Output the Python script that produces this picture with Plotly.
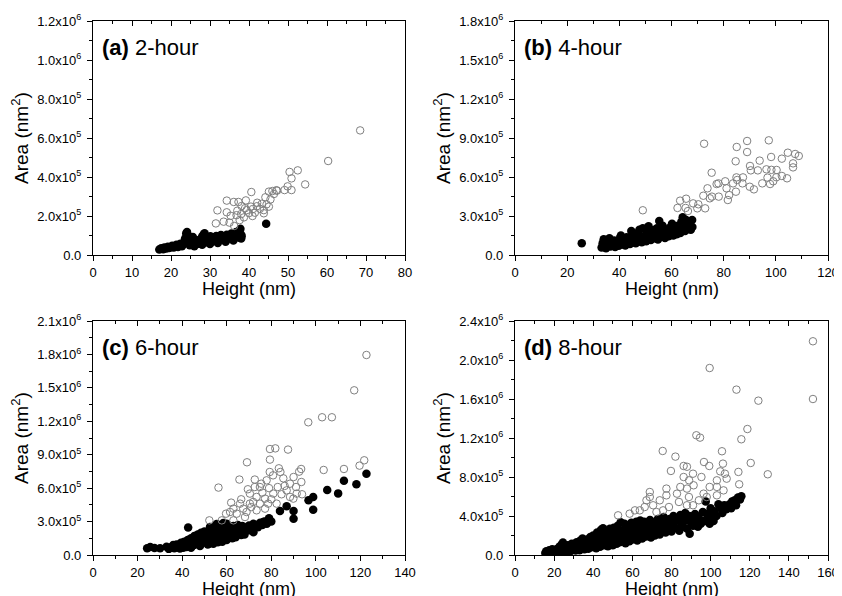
import numpy as np
import plotly.graph_objects as go

# area values are in units of 1e3 nm^2, heights in nm

# (a) 2-hour
closed_2h = [(17.0, 28), (17.5, 35), (18.0, 30), (18.3, 38), (18.8, 33), (19.2, 42), (19.5, 36), (20.0, 40),
             (20.3, 47), (20.7, 38), (21.0, 44), (21.4, 52), (21.8, 41), (22.0, 49), (22.4, 58), (22.8, 45),
             (23.0, 53), (23.3, 64), (23.6, 85), (23.9, 110), (24.1, 118), (24.4, 100), (24.6, 78), (24.8, 50),
             (25.0, 58), (25.3, 70), (25.6, 92), (25.9, 62), (26.2, 55), (26.5, 74), (26.8, 66), (27.1, 58),
             (27.4, 80), (27.7, 68), (28.0, 95), (28.3, 104), (28.6, 112), (28.9, 90), (29.2, 72), (29.5, 64),
             (29.8, 84), (30.1, 96), (30.4, 70), (30.7, 78), (31.0, 88), (31.3, 72), (31.6, 98), (31.9, 80),
             (32.2, 76), (32.5, 92), (32.8, 102), (33.1, 82), (33.4, 88), (33.7, 96), (34.0, 78), (34.3, 104),
             (34.6, 90), (34.9, 84), (35.2, 100), (35.5, 110), (35.8, 92), (36.1, 86), (36.4, 108), (36.7, 118),
             (37.0, 98), (37.3, 90), (37.6, 125), (37.8, 135), (38.0, 104), (38.1, 96), (44.4, 160),
             (26.0, 45), (28.0, 52), (30.0, 56), (32.0, 62), (34.0, 68), (36.0, 75), (38.0, 85)]
open_2h = [(68.5, 639), (60.3, 482), (50.4, 426), (52.5, 434), (50.9, 393), (54.4, 362), (49.9, 352), (50.9, 333),
           (49.1, 333), (47.0, 332), (45.1, 325), (40.6, 323), (46.4, 313), (44.2, 296), (45.5, 285), (34.3, 279),
           (36.1, 272), (37.3, 272), (39.2, 280), (42.1, 268), (43.3, 263), (44.5, 260), (40.5, 248), (45.1, 248),
           (38.1, 251), (31.9, 229), (34.3, 219), (37.0, 227), (36.8, 204), (35.3, 201), (38.7, 193), (41.5, 217),
           (42.8, 237), (43.8, 230), (39.4, 230), (31.5, 162), (33.5, 171), (35.0, 166), (36.2, 149), (37.6, 179),
           (40.9, 200), (43.8, 214), (46.0, 328), (47.2, 330), (39.0, 240), (41.0, 236), (42.0, 250), (38.0, 210),
           (40.0, 215)]

# (b) 4-hour
closed_4h = [(25.6, 90), (33.2, 58), (33.6, 90), (34.0, 121), (34.4, 70), (34.9, 52), (35.3, 80), (35.8, 105),
             (36.2, 128), (36.6, 66), (37.0, 92), (37.5, 74), (38.0, 112), (38.4, 62), (38.9, 84), (39.3, 100),
             (39.8, 72), (40.2, 128), (40.6, 150), (41.0, 96), (41.4, 80), (41.9, 112), (42.3, 74), (42.8, 136),
             (43.2, 92), (43.7, 118), (44.1, 84), (44.6, 184), (45.0, 150), (45.4, 102), (45.9, 128), (46.3, 90),
             (46.8, 165), (47.2, 112), (47.7, 195), (48.1, 140), (48.6, 98), (49.0, 205), (49.4, 124), (49.9, 150),
             (50.3, 106), (50.8, 172), (51.2, 222), (51.7, 138), (52.1, 115), (52.6, 160), (53.0, 190), (53.5, 128),
             (53.9, 148), (54.4, 205), (54.8, 120), (55.3, 262), (55.7, 172), (56.2, 140), (56.6, 225), (57.1, 155),
             (57.5, 130), (58.0, 190), (58.4, 165), (58.9, 145), (59.3, 210), (59.8, 175), (60.2, 240), (60.7, 150),
             (61.1, 200), (61.6, 180), (62.0, 160), (62.5, 225), (62.9, 195), (63.4, 170), (63.8, 255), (64.3, 290),
             (64.7, 210), (65.2, 185), (65.6, 270), (66.1, 230), (66.5, 200), (67.0, 250), (67.4, 195), (67.9, 270),
             (68.0, 215)]
open_4h = [(72.5, 856), (85.0, 831), (89.0, 877), (89.0, 792), (97.3, 882), (84.6, 721), (98.2, 754), (93.8, 726),
           (104.6, 787), (107.4, 777), (108.8, 762), (102.3, 741), (106.6, 705), (106.6, 674), (90.1, 685),
           (90.4, 651), (93.1, 651), (96.4, 659), (98.3, 655), (100.3, 654), (96.8, 595), (100.2, 598), (102.3, 608),
           (104.3, 590), (97.8, 546), (99.0, 567), (94.8, 551), (91.6, 505), (90.0, 525), (87.2, 551), (84.7, 487),
           (81.6, 423), (82.1, 461), (81.1, 513), (83.6, 551), (75.4, 633), (77.3, 546), (80.6, 567), (85.2, 577),
           (87.4, 597), (73.8, 513), (78.1, 449), (74.7, 436), (72.2, 456), (72.9, 359), (69.9, 359), (68.3, 397),
           (70.3, 390), (65.6, 433), (63.3, 418), (62.3, 362), (65.4, 362), (66.3, 338), (49.0, 344), (75.5, 449),
           (78.0, 551), (84.9, 597)]

# (c) 6-hour
closed_6h = [(24.3, 60), (25.7, 72), (27.6, 62), (30.1, 60), (33.0, 75), (36.0, 90), (34.0, 55), (35.0, 70),
             (36.5, 60), (37.5, 95), (38.0, 72), (39.0, 58), (39.5, 110), (40.0, 85), (40.5, 65), (41.0, 120),
             (41.5, 92), (42.0, 72), (42.5, 135), (42.7, 246), (43.0, 105), (43.5, 80), (44.0, 150), (44.5, 118),
             (45.0, 88), (45.5, 170), (46.0, 130), (46.5, 98), (47.0, 185), (47.5, 145), (48.0, 105), (48.5, 200),
             (49.0, 160), (49.5, 115), (50.0, 210), (50.5, 175), (51.0, 125), (51.5, 95), (52.0, 190), (52.5, 251),
             (52.5, 140), (53.0, 230), (53.5, 110), (54.0, 165), (54.0, 100), (54.5, 260), (55.0, 200), (55.5, 278),
             (55.5, 130), (56.0, 180), (56.5, 270), (57.0, 150), (57.5, 220), (58.0, 140), (58.0, 120), (58.5, 287),
             (58.5, 190), (59.0, 250), (59.5, 160), (60.0, 280), (60.5, 210), (61.0, 170), (61.5, 251), (62.0, 190),
             (62.5, 150), (63.0, 260), (63.5, 175), (64.0, 215), (64.5, 228), (65.0, 270), (65.5, 195), (66.0, 240),
             (66.5, 180), (67.0, 260), (67.4, 207), (68.0, 225), (69.0, 250), (70.0, 265), (70.4, 222), (71.0, 240),
             (72.0, 280), (73.4, 266), (74.0, 250), (75.0, 290), (76.0, 270), (76.4, 296), (77.0, 300), (78.0, 280),
             (78.7, 311), (79.0, 330), (80.0, 300), (83.9, 395), (86.9, 437), (90.0, 395), (90.0, 326), (96.7, 491),
             (98.8, 521), (98.8, 407), (105.1, 583), (110.0, 553), (112.6, 667), (118.2, 634), (122.7, 730),
             (44.0, 65), (48.0, 80), (52.0, 100), (56.0, 115), (60.0, 135), (64.0, 160), (68.0, 185), (72.0, 205)]
open_6h = [(122.7, 1795), (117.2, 1478), (96.6, 1191), (102.8, 1236), (107.2, 1236), (79.4, 951), (81.8, 957),
           (87.5, 946), (79.4, 856), (69.1, 832), (121.7, 850), (119.6, 802), (112.6, 772), (103.5, 763), (93.4, 772),
           (92.5, 748), (83.4, 778), (79.3, 745), (65.7, 677), (72.6, 677), (56.3, 605), (52.2, 311), (93.5, 655),
           (93.8, 545), (89.9, 506), (77.9, 670), (85.4, 688), (88.4, 640), (91.1, 610), (82.9, 610), (80.9, 551),
           (84.6, 545), (86.9, 580), (70.4, 551), (73.4, 521), (77.2, 506), (74.9, 461), (78.6, 461), (82.4, 461),
           (70.4, 461), (66.0, 461), (63.0, 416), (67.4, 416), (61.5, 386), (64.5, 371), (68.2, 341), (68.9, 386),
           (59.7, 371), (57.8, 311), (63.0, 311), (73.4, 401), (77.2, 416), (88.4, 521), (91.4, 551), (71.9, 476),
           (74.9, 610), (72.6, 610), (84.1, 745), (80.8, 715), (75.5, 640), (86.0, 620), (90.0, 700), (76.0, 560),
           (79.0, 600), (62.0, 470), (66.5, 500), (69.5, 590), (71.0, 430), (80.0, 500)]

# (d) 8-hour
closed_8h = [(15.5, 20), (16.0, 38), (16.5, 12), (17.0, 30), (17.5, 48), (18.0, 18), (18.5, 40), (19.0, 60),
             (19.5, 25), (20.0, 45), (20.5, 30), (21.0, 55), (21.5, 22), (22.0, 70), (22.5, 38), (23.0, 90),
             (23.5, 30), (24.0, 110), (24.5, 128), (25.0, 60), (25.5, 40), (26.0, 85), (26.5, 32), (27.0, 100),
             (27.5, 55), (28.0, 75), (28.5, 40), (29.0, 115), (29.5, 65), (30.0, 90), (31.0, 45), (31.5, 130),
             (32.0, 75), (32.5, 105), (33.0, 50), (33.5, 150), (34.0, 85), (34.5, 170), (35.0, 120), (35.5, 60),
             (36.0, 140), (36.5, 95), (37.0, 160), (37.5, 65), (38.0, 115), (38.5, 185), (39.0, 80), (39.5, 140),
             (40.0, 200), (40.5, 100), (41.0, 160), (41.5, 70), (42.0, 230), (42.5, 125), (43.0, 180), (43.5, 85),
             (44.0, 260), (44.5, 150), (45.0, 274), (45.5, 100), (46.0, 210), (46.5, 130), (47.0, 250), (47.5, 90),
             (48.0, 180), (48.5, 270), (49.0, 120), (49.5, 220), (50.0, 100), (50.5, 280), (51.0, 160), (51.5, 240),
             (52.0, 115), (52.5, 300), (53.0, 190), (53.5, 130), (54.0, 335), (54.5, 250), (55.0, 150), (55.5, 210),
             (56.0, 320), (56.5, 120), (57.0, 270), (57.5, 180), (58.0, 300), (58.5, 140), (59.0, 230), (59.5, 330),
             (60.0, 160), (61.0, 280), (61.5, 200), (62.0, 340), (62.5, 150), (63.0, 250), (63.5, 190), (64.0, 355),
             (64.5, 300), (65.0, 170), (65.5, 230), (66.0, 340), (66.5, 270), (67.0, 190), (68.0, 310), (68.5, 220),
             (69.0, 360), (69.5, 180), (70.0, 270), (71.0, 330), (71.5, 200), (72.0, 250), (73.0, 370), (73.5, 300),
             (74.0, 210), (75.0, 350), (75.5, 260), (76.0, 390), (77.0, 230), (77.5, 320), (78.0, 280), (79.0, 370),
             (80.0, 240), (80.5, 330), (81.0, 400), (82.0, 280), (83.0, 360), (84.0, 250), (84.5, 410), (85.0, 320),
             (86.0, 290), (87.0, 430), (87.5, 360), (88.0, 270), (89.0, 400), (89.3, 219), (90.0, 330), (91.0, 300),
             (92.0, 420), (92.7, 356), (93.5, 290), (94.0, 380), (95.0, 320), (96.0, 440), (97.0, 350), (97.5, 548),
             (98.0, 420), (98.7, 424), (99.5, 320), (100.0, 480), (100.5, 380), (101.5, 350), (102.0, 450),
             (103.0, 400), (104.0, 520), (105.5, 476), (106.0, 430), (107.0, 510), (108.0, 470), (109.7, 520),
             (110.5, 480), (111.0, 550), (112.3, 561), (113.0, 510), (114.0, 590), (115.0, 570), (115.7, 602),
             (30.0, 60), (35.0, 95), (40.0, 130), (45.0, 170), (50.0, 200), (55.0, 240), (60.0, 270), (65.0, 300),
             (70.0, 300), (75.0, 320), (80.0, 290), (85.0, 370), (90.0, 380)]
open_8h = [(152.3, 2192), (152.3, 1600), (99.5, 1918), (113.2, 1696), (124.4, 1583), (118.8, 1292), (115.7, 1187),
           (92.7, 1228), (94.6, 1204), (75.5, 1067), (82.0, 1009), (105.8, 1064), (120.5, 944), (129.2, 828),
           (79.7, 862), (86.2, 913), (87.9, 905), (96.6, 954), (99.3, 913), (106.3, 937), (104.9, 858), (107.3, 834),
           (108.2, 783), (114.2, 852), (114.6, 725), (91.0, 834), (95.3, 800), (89.0, 766), (86.2, 800), (103.2, 766),
           (106.6, 663), (103.2, 698), (99.5, 698), (96.4, 629), (91.3, 715), (87.9, 681), (84.5, 698), (82.8, 629),
           (77.4, 612), (74.0, 561), (68.9, 646), (67.2, 561), (70.6, 510), (66.3, 492), (63.8, 458), (58.6, 424),
           (52.7, 407), (78.7, 492), (83.8, 544), (88.9, 595), (94.0, 561), (91.0, 510), (98.0, 595), (103.2, 612),
           (87.9, 510), (75.7, 458), (72.3, 441), (61.3, 458), (77.4, 681), (68.9, 595)]

labels = ["(a)", "(b)", "(c)", "(d)"]
hours = ["2-hour", "4-hour", "6-hour", "8-hour"]
x_max = [80, 120, 140, 160]
x_step = [10, 20, 20, 20]
y_ticks = [[0, 2e5, 4e5, 6e5, 8e5, 1.0e6, 1.2e6],
           [0, 3e5, 6e5, 9e5, 1.2e6, 1.5e6, 1.8e6],
           [0, 3e5, 6e5, 9e5, 1.2e6, 1.5e6, 1.8e6, 2.1e6],
           [0, 4e5, 8e5, 1.2e6, 1.6e6, 2.0e6, 2.4e6]]
closed_sets = [closed_2h, closed_4h, closed_6h, closed_8h]
open_sets = [open_2h, open_4h, open_6h, open_8h]

# the page body keeps its default 8px margin, so the figure is drawn 8px in
OFF = 8
W, H = 842 - OFF, 596 - OFF
# plot boxes in page pixels (left, right, top, bottom)
boxes = [(93, 405, 21, 255), (515, 828, 21, 255), (93, 405, 321, 555), (515, 828, 321, 555)]
FONT = "Liberation Sans, Arial, sans-serif"


def sci_text(v):
    if v == 0:
        return "0.0"
    e = int(np.floor(np.log10(v) + 1e-9))
    return f"{v / 10 ** e:.1f}x10<sup>{e}</sup>"


def ax_id(n):
    return "" if n == 1 else str(n)


def px(x):
    return (x - OFF) / W


def py(y):
    return (H - (y - OFF)) / H


fig = go.Figure()
layout = dict(width=W, height=H, margin=dict(l=0, r=0, t=0, b=0, autoexpand=False), showlegend=False,
              paper_bgcolor='white', plot_bgcolor='white', font=dict(family=FONT, color='black'))
annotations = []

for i in range(4):
    n = i + 1
    xa, ya, xt = "x" + ax_id(n), "y" + ax_id(n), f"x{n + 4}"
    l, r, t, b = boxes[i]
    xdom = [px(l), px(r)]
    ydom = [py(b), py(t)]
    closed = np.array(closed_sets[i], dtype=float)
    opened = np.array(open_sets[i], dtype=float)

    fig.add_trace(go.Scatter(x=closed[:, 0], y=closed[:, 1] * 1e3, mode='markers', xaxis=xa, yaxis=ya,
                             marker=dict(symbol='circle', size=8.5, color='black', line=dict(width=0))))
    fig.add_trace(go.Scatter(x=opened[:, 0], y=opened[:, 1] * 1e3, mode='markers', xaxis=xa, yaxis=ya,
                             marker=dict(symbol='circle-open', size=7.5, color='#808080', line=dict(width=1))))
    # dummy trace so the top tick axis gets drawn
    fig.add_trace(go.Scatter(x=[None], y=[None], xaxis=xt, yaxis=ya, mode='markers'))

    layout['xaxis' + ax_id(n)] = dict(domain=xdom, anchor=ya, range=[0, x_max[i]], dtick=x_step[i], tick0=0,
                                      ticks='outside', ticklen=5, tickwidth=1, tickcolor='black',
                                      minor=dict(dtick=x_step[i] / 2, ticks='outside', ticklen=3, tickcolor='black'),
                                      showline=True, linecolor='black', linewidth=1.3, mirror=True, showgrid=False,
                                      zeroline=False, tickfont=dict(size=13), ticklabelstandoff=0,
                                      automargin=False)
    layout[f'xaxis{n + 4}'] = dict(domain=xdom, anchor=ya, overlaying=xa, side='top', range=[0, x_max[i]],
                                   dtick=x_step[i], tick0=0, ticks='inside', ticklen=5, tickcolor='black',
                                   minor=dict(dtick=x_step[i] / 2, ticks='inside', ticklen=3, tickcolor='black'),
                                   showticklabels=False, showgrid=False, zeroline=False, showline=False,
                                   automargin=False)
    yt = y_ticks[i]
    layout['yaxis' + ax_id(n)] = dict(domain=ydom, anchor=xa, range=[0, yt[-1]], tickmode='array', tickvals=yt,
                                      ticktext=[sci_text(v) for v in yt], ticks='outside', ticklen=5,
                                      tickcolor='black',
                                      minor=dict(tickvals=[(yt[k] + yt[k + 1]) / 2 for k in range(len(yt) - 1)],
                                                 ticks='outside', ticklen=3, tickcolor='black'),
                                      showline=True, linecolor='black', linewidth=1.3, mirror=True, showgrid=False,
                                      zeroline=False, tickfont=dict(size=13), ticklabelstandoff=3,
                                      automargin=False)
    # panel label
    annotations.append(dict(xref=f'{xa} domain', yref=f'{ya} domain', x=0.022, y=0.885, xanchor='left',
                            yanchor='middle', showarrow=False, font=dict(size=22, family=FONT),
                            text=f'<b>{labels[i]}</b> {hours[i]}'))
    # axis titles
    annotations.append(dict(xref='paper', yref='paper', x=px((l + r) / 2), y=py(b + 34),
                            xanchor='center', yanchor='middle', showarrow=False, font=dict(size=18, family=FONT),
                            text='Height (nm)'))
    annotations.append(dict(xref='paper', yref='paper', x=px(l - 73), y=py((t + b) / 2),
                            xanchor='center', yanchor='middle', showarrow=False, textangle=-90,
                            font=dict(size=19, family=FONT), text='Area (nm<sup>2</sup>)'))

layout['annotations'] = annotations
fig.update_layout(**layout)
fig.write_html("out.html")
